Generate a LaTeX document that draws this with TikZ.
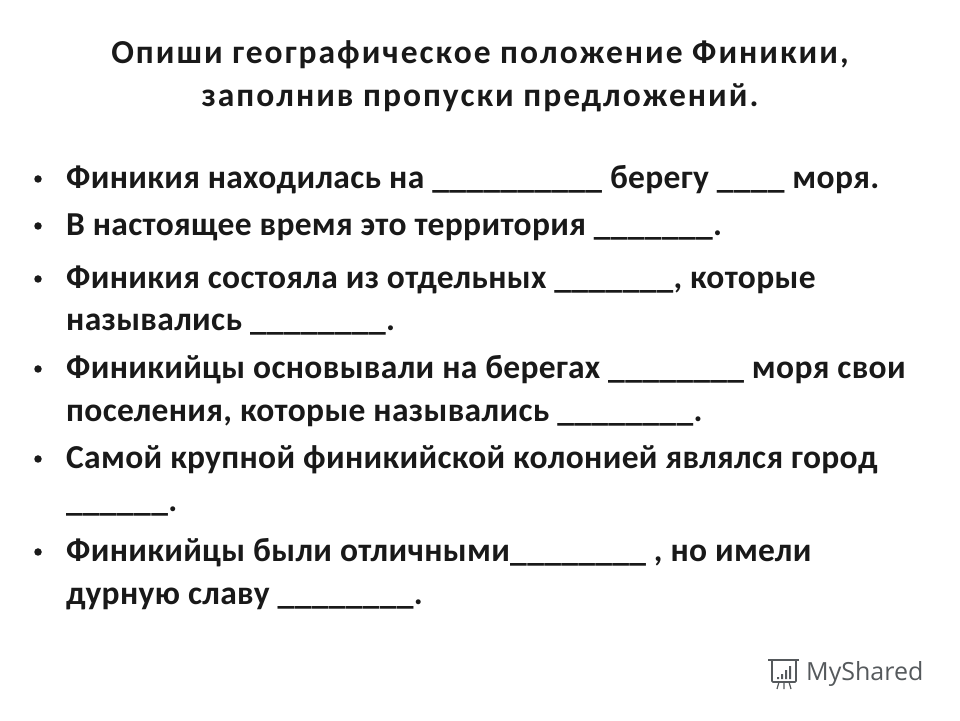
\documentclass[tikz,border=0pt]{standalone}
\usepackage{fontspec}
\setmainfont{Carlito}
\newfontfamily\logofont{Open Sans}
\definecolor{lg}{HTML}{55595C}
\begin{document}
\begin{tikzpicture}[x=1pt,y=1pt,
  ttl/.style={font=\fontsize{33.5}{36}\selectfont\bfseries\addfontfeature{LetterSpace=6},anchor=base,text=black!90,inner sep=0},
  txt/.style={font=\fontsize{33.5}{36}\selectfont\bfseries\addfontfeature{LetterSpace=1},anchor=base west,text=black!90,inner sep=0},
  bul/.style={circle,fill=black!90,inner sep=0,minimum size=7.5pt},
  ico/.style={draw=lg,line width=1.6pt}]
\useasboundingbox (0,0) rectangle (960,720);
\node[ttl] (t1) at (480,720-64) {Опиши географическое положение Финикии,};
\node[ttl] (t2) at (480,720-107) {заполнив пропуски  предложений.};
\foreach \n/\y in {1/189,2/236,3/289,4/379,5/469,6/562}{
  \node[bul] (b\n) at (38,720-\y+10) {};}
\node[txt] (l1) at (66,720-189) {Финикия находилась на \_\_\_\_\_\_\_\_\_\_ берегу \_\_\_\_ моря.};
\node[txt] (l2) at (66,720-236) {В настоящее время это территория \_\_\_\_\_\_\_.};
\node[txt] (l3) at (66,720-289) {Финикия состояла из отдельных \_\_\_\_\_\_\_, которые};
\node[txt] (l3b) at (66,720-331) {назывались \_\_\_\_\_\_\_\_.};
\node[txt] (l4) at (66,720-379) {Финикийцы основывали на берегах  \_\_\_\_\_\_\_\_ моря свои};
\node[txt] (l4b) at (66,720-422) {поселения, которые назывались \_\_\_\_\_\_\_\_.};
\node[txt] (l5) at (66,720-469) {Самой крупной финикийской колонией являлся город};
\node[txt] (l5b) at (66,720-512) {\_\_\_\_\_\_.};
\node[txt] (l6) at (66,720-562) {Финикийцы были  отличными\_\_\_\_\_\_\_\_ , но имели};
\node[txt] (l6b) at (66,720-604) {дурную славу \_\_\_\_\_\_\_\_.};
% logo icon
\draw[ico,rounded corners=1pt] (772,720-660) rectangle (796,720-682);
\draw[ico] (768,720-660) -- (799,720-660);
\fill[lg] (777,720-679) rectangle (779,720-677) (781,720-679) rectangle (783,720-674)
  (785,720-679) rectangle (787,720-670) (789,720-679) rectangle (791,720-666);
\draw[ico,line width=1.2pt] (779,720-682) -- (777,720-689) (784,720-682) -- (784,720-689) (789,720-682) -- (791,720-689);
\node[anchor=west,font=\fontsize{25}{30}\logofont,text=lg,inner sep=0] (logo) at (806,720-674) {MyShared};
\end{tikzpicture}
\end{document}
